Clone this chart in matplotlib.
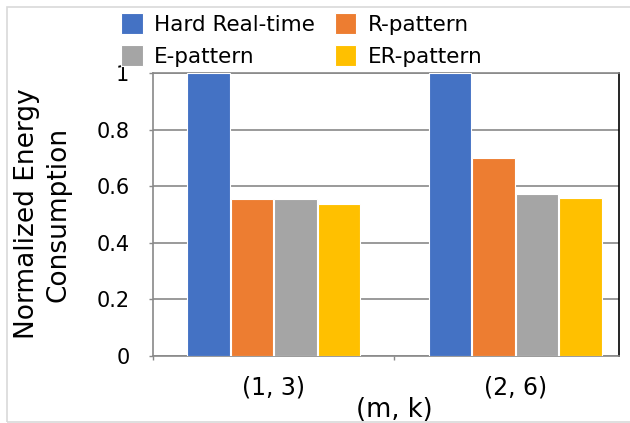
import matplotlib.pyplot as plt
from matplotlib.patches import Rectangle
import numpy as np

categories = ["(1, 3)", "(2, 6)"]
series = ["Hard Real-time", "R-pattern", "E-pattern", "ER-pattern"]
hard_rt = [1.0, 1.0]
r_pattern = [0.555, 0.699]
e_pattern = [0.555, 0.573]
er_pattern = [0.536, 0.559]
colors = ["#4472C4", "#ED7D31", "#A5A5A5", "#FFC000"]

plt.rcParams["font.family"] = "DejaVu Sans"

W, H = 630, 423
fig = plt.figure(figsize=(W / 100, H / 100), dpi=100)
# axes in pixel coords: left 153, right 619, top 73, bottom 356
ax = fig.add_axes([153 / W, 1 - 356 / H, (619 - 153) / W, (356 - 73) / H])

# chart border (right edge falls outside the image)
fig.patches.append(Rectangle((7 / W, 1 / H), 2.0, (422 - 7) / H, transform=fig.transFigure,
                             fill=False, edgecolor="#d9d9d9", lw=1.2))

x = np.arange(len(categories))
width = 0.176
offsets = np.array([-1.5, -0.5, 0.5, 1.5]) * 0.18
data = [hard_rt, r_pattern, e_pattern, er_pattern]
bars = []
for vals, off, c, name in zip(data, offsets, colors, series):
    b = ax.bar(x + off, vals, width, color=c, edgecolor="white", linewidth=0.8, label=name, zorder=3)
    bars.append(b)

ax.set_xlim(-0.5, 1.43)
ax.set_ylim(0, 1)
ax.set_yticks([0, 0.2, 0.4, 0.6, 0.8, 1.0])
ax.set_yticklabels(["0", "0.2", "0.4", "0.6", "0.8", "1"])
ax.set_xticks(x)
ax.set_xticklabels(categories)
ax.set_xticks([-0.5, 0.5], minor=True)
ax.tick_params(axis="x", which="major", length=0, pad=14, labelsize=17)
ax.tick_params(axis="x", which="minor", length=3, color="#898989", width=1)
ax.tick_params(axis="y", length=3, color="#898989", width=1, pad=14, labelsize=15)
ax.grid(axis="y", color="#898989", lw=1.2, zorder=0)

for s in ["left", "bottom", "top"]:
    ax.spines[s].set_color("#898989")
    ax.spines[s].set_linewidth(1.2)
ax.spines["right"].set_color("black")
ax.spines["right"].set_linewidth(1.2)

fig.text(394 / W, 1 - 410 / H, "(m, k)", fontsize=18.5, ha="center", va="center")
fig.text(43 / W, 1 - 214 / H, "Normalized Energy\nConsumption", fontsize=19, rotation=90,
         ha="center", va="center", multialignment="center", linespacing=1.25)

# row-wise legend order: Hard, R / E, ER
order = [0, 2, 1, 3]
fig.legend([bars[i] for i in order], [series[i] for i in order],
           loc="upper left", bbox_to_anchor=(121 / W, 1 - 13 / H), ncol=2, frameon=False,
           fontsize=15.5, handlelength=1.0, handleheight=1.1, handletextpad=0.55,
           columnspacing=0.9, labelspacing=0.5, borderpad=0, borderaxespad=0)

fig.savefig("out.png", dpi=100)
